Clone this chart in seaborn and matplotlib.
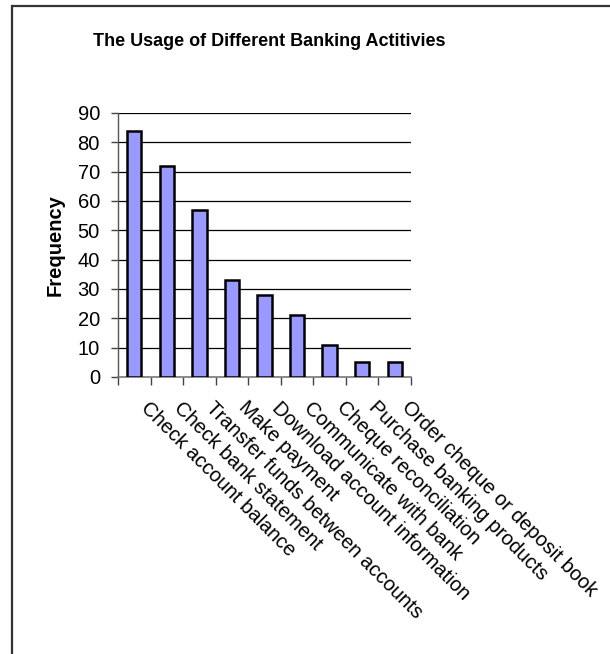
import matplotlib
matplotlib.use("Agg")
import matplotlib.pyplot as plt
import matplotlib.transforms as mtransforms
from matplotlib.patches import Rectangle
import seaborn as sns
import pandas as pd

categories = [
    "Check account balance",
    "Check bank statement",
    "Transfer funds between accounts",
    "Make payment",
    "Download account information",
    "Communicate with bank",
    "Cheque reconciliation",
    "Purchase banking products",
    "Order cheque or deposit book",
]
frequency = [84, 72, 57, 33, 28, 21, 11, 5, 5]
y_ticks = [0, 10, 20, 30, 40, 50, 60, 70, 80, 90]

sns.set_theme(style="white")
plt.rcParams["font.family"] = ["Liberation Sans", "DejaVu Sans"]
plt.rcParams.update({"text.color": "black", "axes.labelcolor": "black",
                     "xtick.color": "black", "ytick.color": "black"})

df = pd.DataFrame({"Activity": categories, "Frequency": frequency})

fig = plt.figure(figsize=(6.1, 6.54), dpi=100)
ax = fig.add_axes([118 / 610, 1 - 377 / 654, (411 - 118) / 610, (377 - 113) / 654])

sns.barplot(data=df, x="Activity", y="Frequency", ax=ax, color="#9999FF",
            saturation=1, width=0.44, edgecolor="black", linewidth=1.8, zorder=3)

ax.set_ylim(0, 90)
ax.set_xlim(-0.5, len(categories) - 0.5)
ax.set_yticks(y_ticks)
ax.set_yticklabels([str(v) for v in y_ticks], fontsize=14.5)
for v in y_ticks[1:]:
    ax.axhline(v, color="black", linewidth=0.9, zorder=1)

# category boundary ticks
ax.set_xticks([i - 0.5 for i in range(len(categories) + 1)], minor=True)
ax.set_xticks(range(len(categories)))
ax.tick_params(axis="x", which="major", length=0, pad=2)
ax.tick_params(axis="x", which="minor", length=6, width=1, color="#444444", direction="out", bottom=True)
ax.tick_params(axis="y", which="major", length=5, width=1, color="#444444", direction="out", left=True, pad=8)

offset = mtransforms.ScaledTranslation(10 / 100, -25 / 100, fig.dpi_scale_trans)
ax.set_xticklabels(categories, rotation=-45, ha="left", va="center",
                   rotation_mode="anchor", fontsize=14.5)
for lab in ax.get_xticklabels():
    lab.set_transform(lab.get_transform() + offset)

for s in ["top", "right"]:
    ax.spines[s].set_visible(False)
ax.spines["left"].set_color("#555555")
ax.spines["left"].set_linewidth(1)
ax.spines["bottom"].set_color("#777777")
ax.spines["bottom"].set_linewidth(1.2)

ax.set_xlabel("")
ax.set_ylabel("Frequency", fontsize=14.5, fontweight="bold", labelpad=9)

fig.text(269 / 610, 1 - 41 / 654, "The Usage of Different Banking Actitivies",
         ha="center", va="center", fontsize=13, fontweight="bold")

fig.patches.append(Rectangle((12 / 610, -0.1), 1.2, 1 - 6 / 654 + 0.1,
                             transform=fig.transFigure, fill=False,
                             edgecolor="#333333", linewidth=1.6))

fig.savefig("out.png", dpi=100)
